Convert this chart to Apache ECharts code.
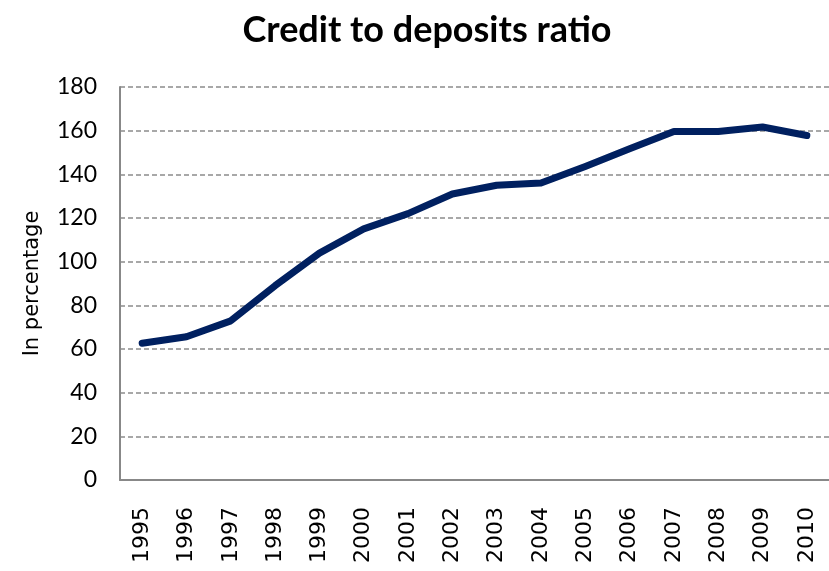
<!DOCTYPE html>
<html>
<head>
<meta charset="utf-8">
<script src="https://cdn.jsdelivr.net/npm/echarts@6/dist/echarts.min.js"></script>
<style>
  html, body { margin: 0; padding: 0; background: #fff; }
  #chart { width: 829px; height: 571px; }
</style>
</head>
<body>
<div id="chart"></div>
<script>
// Years on the category axis
const years = ['1995','1996','1997','1998','1999','2000','2001','2002',
               '2003','2004','2005','2006','2007','2008','2009','2010'];
// Credit to deposits ratio, in percent
const ratio = [62.6, 65.6, 72.9, 89, 103.9, 115, 122, 131,
               135, 136, 143.6, 151.7, 159.6, 159.6, 161.7, 157.8];
// Value axis settings
const yMin = 0, yMax = 180, yStep = 20;

const chart = echarts.init(document.getElementById('chart'), null, { renderer: 'canvas' });
chart.setOption({
  animation: false,
  backgroundColor: '#ffffff',
  title: {
    text: 'Credit to deposits ratio',
    left: 422,
    textAlign: 'center',
    top: 7,
    textStyle: { fontFamily: 'Lato', fontWeight: 'bold', fontSize: 36, color: '#000' }
  },
  grid: { left: 120, top: 87, width: 712, height: 393, containLabel: false },
  xAxis: {
    type: 'category',
    data: years,
    boundaryGap: true,
    axisLine: { show: true, lineStyle: { color: '#888888', width: 2 } },
    axisTick: { show: false },
    axisLabel: {
      rotate: 90, margin: 27, interval: 0,
      fontFamily: 'DejaVu Sans', fontSize: 22, color: '#000'
    },
    splitLine: { show: false }
  },
  yAxis: {
    type: 'value',
    min: yMin, max: yMax, interval: yStep,
    name: 'In percentage',
    nameLocation: 'middle',
    nameRotate: 90,
    nameGap: 77,
    nameTextStyle: { fontFamily: 'DejaVu Sans', fontSize: 21, color: '#000' },
    axisLine: { show: true, lineStyle: { color: '#888888', width: 2 } },
    axisTick: { show: false },
    axisLabel: { margin: 23, fontFamily: 'Lato', fontSize: 23, color: '#000' },
    splitLine: { show: true, lineStyle: { color: '#8c8c8c', width: 1.5, type: [5, 3] } }
  },
  series: [{
    type: 'line',
    data: ratio,
    symbol: 'none',
    smooth: false,
    lineStyle: { color: '#002060', width: 7, cap: 'round', join: 'round' },
    z: 3
  }]
});
</script>
</body>
</html>
